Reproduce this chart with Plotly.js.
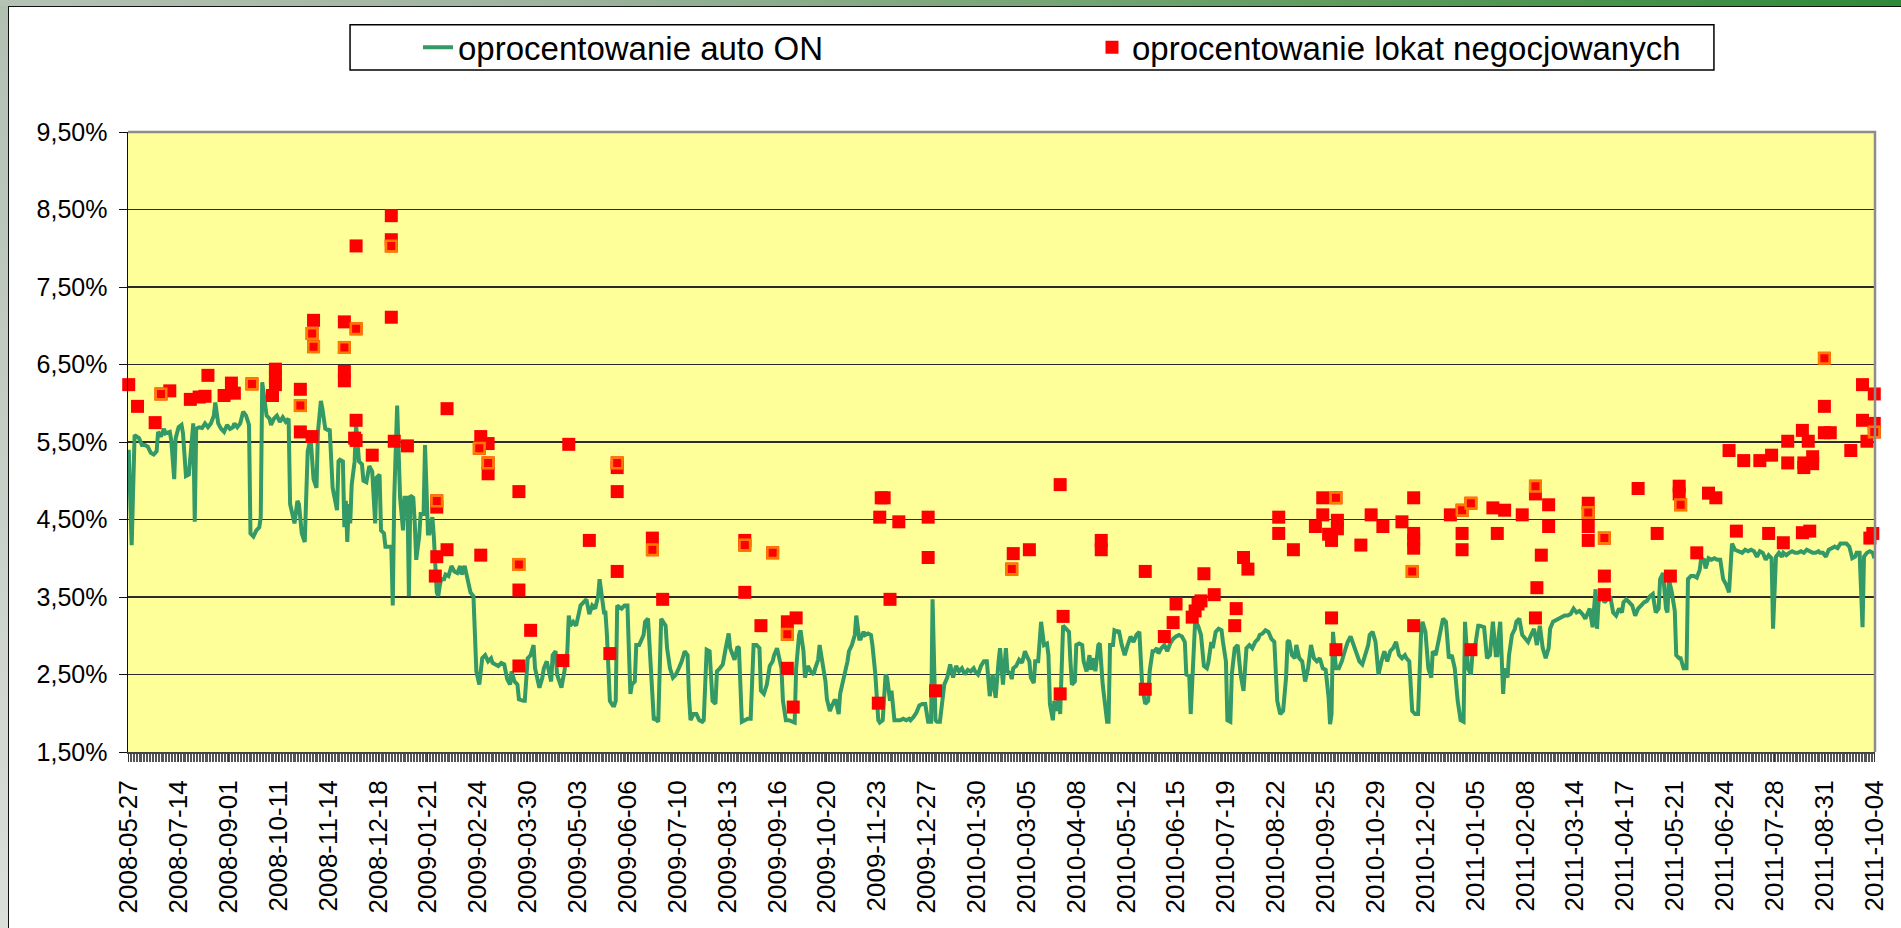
<!DOCTYPE html>
<html>
<head>
<meta charset="utf-8">
<script src="https://cdn.plot.ly/plotly-3.0.1.min.js"></script>
<style>
html,body{margin:0;padding:0;width:1901px;height:928px;overflow:hidden;background:#fff;}
#frame{position:absolute;left:0;top:0;width:1901px;height:928px;background:linear-gradient(to bottom,#b1bfb1,#dcdedc);}
#topbar{position:absolute;left:0;top:0;width:1901px;height:6px;background:linear-gradient(to right,#b5c3b5,#9cb39c 30%,#5f9c5f 70%,#2f8a38);}
#inner{position:absolute;left:8px;top:6px;width:1893px;height:922px;background:#fff;border-left:1px solid #111;border-top:1px solid #111;box-sizing:border-box;}
#chart{position:absolute;left:9px;top:7px;width:1892px;height:921px;}
</style>
</head>
<body>
<div id="frame"></div>
<div id="topbar"></div>
<div id="inner"></div>
<div id="chart"></div>
<script>
// Etykiety osi X (co 34 notowania)
const tickLabels = ["2008-05-27","2008-07-14","2008-09-01","2008-10-11","2008-11-14","2008-12-18",
 "2009-01-21","2009-02-24","2009-03-30","2009-05-03","2009-06-06","2009-07-10","2009-08-13",
 "2009-09-16","2009-10-20","2009-11-23","2009-12-27","2010-01-30","2010-03-05","2010-04-08",
 "2010-05-12","2010-06-15","2010-07-19","2010-08-22","2010-09-25","2010-10-29","2010-12-02",
 "2011-01-05","2011-02-08","2011-03-14","2011-04-17","2011-05-21","2011-06-24","2011-07-28",
 "2011-08-31","2011-10-04"];
const labelStep = 34;

// Seria 1: oprocentowanie auto ON (nr notowania, wartość w %)
const autoOnNr = [
0,2,4,7,9,11,13,15,17,19, 20,22,24,25,28,29,31,32,34,36, 37,39,41,43,44,45,46,48,50,52,
54,56,58,59,61,63,65,67,69,71, 72,74,76,78,80,82,83,85,87,89, 90,91,93,94,96,97,99,101,103,105,
107,109,110,112,113,115,116,118,120,122, 124,126,128,129,131,132,134,136,137,139,
141,142,143,144,146,147,148,149,150,151, 152,154,155,157,159,160,162,163,164,166,
168,169,171,172,174,175,178,179,180,181, 183,184,185,187,188,190,191,192,194,195,
196,198,199,201,202,204,205,207,208,210, 211,212,213,215,216,218,220,222,224,226,
227,229,231,233,235,236,237,239,241,243, 245,247,248,250,252,254,256,258,260,261,
263,265,266,269,270,272,274,276,277,279, 280,282,283,285,286,288,289,291,292,294,
295,297,299,300,301,303,305,307,308,310, 312,314,316,318,320,321,323,324,325,326,
328,330,331,332,333,336,338,340,341,342, 343,345,346,348,351,352,354,356,358,359,
361,363,364,366,367,369,371,373,375,377, 379,381,382,383,385,387,389,391,392,394,
396,398,400,401,403,405,407,409,410,412, 413,415,416,418,420,422,424,426,428,430,
431,433,435,437,439,440,442,443,445,446, 448,450,452,454,455,457,458,460,461,463,
465,467,468,470,471,473,475,476,478,479, 481,482,484,485,487,488,490,491,493,495,
496,498,499,501,502,504,506,507,509,511, 512,514,516,517,519,520,522,524,526,528,
530,532,533,535,537,539,541,543,545,547, 548,550,551,553,555,556,558,560,562,564,
566,568,570,572,574,576,577,579,581,583, 585,587,589,
591,593,594,596,598,599,601,602,603,605, 607,609,611,612,614,615,617,618,620,622,
624,626,627,628,630,631,633,634,635,637, 639,641,642,643,645,646,648,650,651,653,
655,656,658,659,661,662,664,665,667,668, 669,671,672,674,675,677,679,681,683,685,
687,689,690,691,693,695,696,698,699,701, 702,704,706,708,710,712,714,716,718,720,
721,723,724,726,727,729,731,733,735,736, 738,739,741,743,745,746,748,749,751,752,
754,756,758,760,762,764,766,768,770,771, 773,775,777,779,781,783,785,787,789,790,
791,793,795,796,798,800,802,804,806,808, 810,812,814,816,818,819,820,821,823,825,
827,829,831,833,835,837,839,841,843,845, 846,848,850,852,854,856,858,860,862,864,
866,868,870,871,873,875,877,879,881,882, 884,886,888,889,891,893,895,896,898,900,
902,904,906,908,910,911,913,915,916,918, 920,921,924,926,928,930,932,933,934,935,
937,938,940,941,943,945,946,948,950,952, 954,956,958,960,962,964,966,968,969,971,
973,975,977,979,981,983,985,987,989,991, 993,994,996,998,1000,1001,1002,1004,1006,1008,
1010,1012,1014,1016,1018,1019,1021,1023,1025,1027, 1029,1031,1033,1035,1037,1039,1041,1043,1044,1046,
1048,1049,1050,1052,1054,1055,1057,1058,1060,1062, 1063,1065,1067,1069,1071,1072,1074,1075,1077,1079,
1081,1083,1085,1087,1089,1091,1092,1093,1095,1097, 1098,1100,1102,1104,1106,1108,1110,1112,1114,1116,
1118,1120,1121,1123,1125,1127,1128,1130,1132,1134, 1136,1138,1140,1142,1144,1146,1148,1150,1152,1153,
1155,1157,1159,1161,1163,1165,1167,1169,1171,1173, 1175,1177,1178,1180,1182,1183,1185,1187,1189,1190];
const autoOnVal = [
5.40,4.17,5.59,5.55,5.46,5.46,5.44,5.36,5.34,5.38, 5.63,5.57,5.67,5.61,5.63,5.52,5.02,5.55,5.69,5.72, 5.61,5.06,5.08,5.63,5.74,4.47,5.67,5.69,5.68,5.74,
5.69,5.74,5.84,6.01,5.74,5.67,5.63,5.72,5.67,5.69, 5.74,5.69,5.74,5.89,5.84,5.72,4.32,4.28,4.36,4.40, 4.53,6.27,5.93,5.84,5.80,5.72,5.80,5.84,5.76,5.82,
5.76,5.80,4.70,4.53,4.45,4.74,4.70,4.32,4.21,5.38, 5.55,5.02,4.91,5.63,6.03,5.93,5.67,5.65,5.67,4.91,
4.70,4.62,5.25,5.27,5.25,4.40,4.74,4.21,4.70,4.45, 4.95,5.25,5.72,5.25,5.21,5.00,4.98,5.12,5.19,5.12,
4.45,5.04,5.08,4.36,4.32,4.15,4.15,4.15,3.39,4.78, 5.97,5.46,4.78,4.36,4.78,4.78,3.51,4.81,4.78,4.45,
3.98,4.28,4.57,4.57,5.46,4.32,4.32,4.53,4.28,3.56, 3.51,3.64,3.73,3.73,3.79,3.77,3.90,3.83,3.81,3.90,
3.79,3.90,3.73,3.56,3.51,3.01,2.54,2.37,2.71,2.75, 2.67,2.71,2.65,2.63,2.61,2.65,2.63,2.44,2.37,2.54,
2.41,2.37,2.18,2.16,2.16,2.71,2.75,2.88,2.58,2.41, 2.33,2.46,2.58,2.67,2.58,2.41,2.75,2.80,2.50,2.37,
2.33,2.54,2.80,3.26,3.13,3.18,3.13,3.30,3.39,3.43, 3.47,3.28,3.39,3.35,3.51,3.73,3.39,3.30,3.30,3.01,
2.16,2.10,2.10,2.16,3.39,3.35,3.39,3.39,2.80,2.25, 2.37,2.41,2.88,2.88,3.01,3.18,3.22,2.58,1.91,1.93,
1.89,3.22,3.18,3.13,2.84,2.58,2.46,2.50,2.58,2.67, 2.80,2.75,2.20,1.91,1.99,1.99,1.91,1.89,1.91,2.82,
2.80,2.16,2.12,2.54,2.58,2.63,2.84,3.03,2.84,2.71, 2.69,2.86,2.84,1.89,1.91,1.93,1.93,2.88,2.88,2.84,
2.29,2.25,2.37,2.61,2.67,2.75,2.84,2.75,2.58,2.16, 1.91,1.91,1.89,1.88,2.58,3.01,3.07,2.80,2.46,2.61,
2.54,2.50,2.58,2.69,2.88,2.67,2.41,2.18,2.03,2.08, 2.16,2.16,1.99,2.25,2.41,2.54,2.67,2.80,2.88,3.01,
3.26,2.96,2.96,3.05,3.01,3.03,3.01,2.88,2.50,1.91, 1.88,1.91,2.50,2.46,2.16,2.29,1.91,1.91,1.91,1.93,
1.91,1.93,1.91,1.95,2.01,2.10,2.12,2.12,1.89,1.89, 3.47,1.91,1.89,1.89,2.16,2.37,2.46,2.63,2.46,2.61,
2.54,2.58,2.50,2.56,2.54,2.58,2.54,2.50,2.61,2.67, 2.67,2.22,2.50,
2.20,2.67,2.84,2.37,2.84,2.54,2.52,2.44,2.58,2.61, 2.69,2.65,2.80,2.75,2.67,2.46,2.39,2.67,2.67,3.18,
2.88,2.90,2.75,2.12,1.91,2.16,2.03,2.25,1.99,3.13, 3.09,3.05,2.67,2.37,2.41,2.88,2.90,2.88,2.67,2.54,
2.75,2.56,2.71,2.54,2.88,2.90,2.37,2.20,1.89,1.89, 2.88,2.88,3.07,3.05,3.07,2.88,2.75,2.88,2.99,2.92,
3.01,3.05,2.58,2.33,2.12,2.16,2.54,2.80,2.80,2.84, 2.77,2.84,2.88,2.80,2.90,2.96,2.99,3.01,2.99,2.92,
2.50,2.48,1.99,2.80,3.18,3.13,3.01,2.61,2.58,2.65, 2.92,2.84,3.05,3.09,3.07,2.92,2.67,1.91,1.89,2.50,
2.84,2.88,2.50,2.29,2.84,2.88,2.84,2.92,2.96,3.01, 3.03,3.07,3.05,2.96,2.92,2.16,1.99,2.03,2.46,2.92,
2.94,2.75,2.71,2.88,2.71,2.67,2.41,2.58,2.88,2.71, 2.67,2.71,2.58,2.56,2.20,1.86,1.99,3.05,2.58,2.58,
2.67,2.80,2.92,2.99,2.88,2.75,2.67,2.63,2.75,2.88, 3.01,3.05,2.92,2.50,2.67,2.80,2.67,2.80,2.84,2.92,
2.75,2.71,2.75,2.71,2.67,2.03,1.99,1.99,3.01,3.18, 3.05,2.58,2.46,2.80,2.75,2.92,3.09,3.22,3.18,2.71,
2.75,2.58,2.16,1.91,1.89,3.18,2.58,2.50,2.75,2.88, 3.13,3.13,3.11,2.71,2.75,3.18,2.75,2.75,3.01,3.18,
2.25,2.58,2.46,2.75,3.01,3.09,3.18,3.22,3.01,2.96, 2.92,3.01,3.09,2.88,3.13,2.84,2.71,2.84,3.09,3.18,
3.20,3.22,3.24,3.26,3.26,3.28,3.35,3.30,3.32,3.28, 3.22,3.26,3.35,3.11,3.60,3.09,3.43,3.56,3.43,3.47,
3.51,3.30,3.26,3.35,3.30,3.43,3.47,3.43,3.39,3.26, 3.35,3.39,3.43,3.45,3.51,3.54,3.30,3.35,3.73,3.81,
3.35,3.30,3.73,3.56,3.32,2.75,2.71,2.71,2.58,2.58, 3.73,3.77,3.77,3.75,3.85,4.00,3.98,3.87,4.00,3.98,
4.00,3.98,3.98,3.73,3.66,3.56,3.98,4.19,4.11,4.09, 4.09,4.07,4.11,4.09,4.11,4.09,4.02,4.09,4.07,3.98,
4.04,4.00,3.09,4.02,4.07,4.02,4.07,4.04,4.07,4.09, 4.07,4.07,4.09,4.07,4.11,4.09,4.07,4.07,4.09,4.07,
4.07,4.02,4.11,4.13,4.15,4.13,4.19,4.19,4.19,4.15, 4.00,4.02,4.07,4.07,3.11,4.02,4.07,4.09,4.07,4.00];

// Seria 2: oprocentowanie lokat negocjowanych
const lokatyNr = [
0,6,18,22,28,42,48,52,54,65, 70,72,84,98,100,100,100,117,117,117,
125,125,126,126,147,147,147,147,154,155, 155,155,155,166,179,179,179,179,181,190,
209,210,210,210,217,217,239,240,240,245, 245,245,266,266,266,266,274,296,300,314,
328,333,333,333,333,357,357,364,420,420, 420,431,439,449,449,449,453,455,511,512,
513,515,519,525,545,545,550,602,603,614, 635,635,637,663,663,693,693,706,712,714,
725,727,729,731,733,740,754,755,760,763, 784,784,794,809,814,814,818,820,820,823,
823,824,824,840,847,855,868,875,876,876, 876,876,876,901,909,909,909,915,915,930,
933,938,950,959,959,959,960,963,968,968, 995,995,995,995,1006,1006,1006,1029,1042,1051,
1057,1057,1058,1069,1077,1082,1091,1096,1101,1112, 1118,1120,1128,1131,1131,1141,1141,1142,1142,1145,
1146,1148,1148,1156,1156,1156,1160,1174,1182,1182, 1185,1187,1189,1190,1190,1190];
const lokatyVal = [
6.24,5.96,5.75,6.12,6.16,6.05,6.08,6.09,6.36,6.10, 6.26,6.13,6.25,6.10,6.44,6.34,6.24,6.18,5.97,5.63,
6.90,5.57,7.07,6.73,7.05,6.72,6.41,6.29,5.55,8.03, 6.96,5.78,5.52,5.33,8.42,8.11,8.03,7.11,5.51,5.45,
3.77,4.74,4.66,4.02,5.93,4.11,5.42,5.57,4.04,5.48, 5.23,5.09,4.86,3.92,3.59,2.61,3.07,2.68,5.47,4.23,
2.77,5.23,5.17,4.86,3.83,4.26,4.11,3.47,4.23,4.17, 3.56,3.13,4.07,3.18,3.02,2.58,2.08,3.23,2.13,4.53,
4.78,4.78,3.47,4.47,4.53,4.01,2.29,3.86,4.06,4.11, 4.95,2.25,3.25,4.23,4.11,3.83,2.31,2.99,3.17,3.41,
3.24,3.32,3.41,3.45,3.80,3.53,3.13,3.35,4.01,3.86, 4.53,4.32,4.11,4.41,4.78,4.56,4.31,4.23,3.23,4.78,
2.82,4.49,4.38,4.17,4.56,4.41,4.47,3.83,4.78,4.32, 4.23,4.13,3.13,4.56,4.62,4.32,4.11,4.71,2.82,4.65,
4.32,4.62,4.56,4.93,4.83,3.23,3.62,4.04,4.69,4.41, 4.71,4.59,4.41,4.23,4.26,3.77,3.53,4.90,4.32,3.77,
4.93,4.83,4.69,4.07,4.84,4.78,5.39,4.35,5.26,5.26, 4.32,5.33,4.20,5.51,5.23,5.65,4.33,5.23,5.17,5.51,
4.35,5.31,5.22,6.58,5.96,5.62,5.62,5.39,6.24,5.78, 5.51,4.26,4.32,6.12,5.74,5.63];
// 1 = punkt z pomarańczowym obrysem
const lokatyObrys = [
0,0,0,1,0,0,0,0,0,0, 0,0,1,0,0,0,0,0,1,0,
1,0,0,1,0,1,0,0,0,0, 1,0,0,0,0,0,1,0,0,0,
0,1,0,0,0,0,1,0,0,0, 1,0,0,1,0,0,0,0,0,0,
0,1,0,0,0,0,1,0,0,1, 0,0,1,0,1,0,0,0,0,0,
0,0,0,0,0,0,0,1,0,0, 0,0,0,0,0,0,0,0,0,0,
0,0,0,0,0,0,0,0,0,0, 0,0,0,0,0,0,0,0,0,1,
0,0,0,0,0,0,0,1,0,0, 0,0,0,0,1,0,0,1,0,0,
0,0,0,1,0,0,0,0,0,0, 0,1,0,0,1,0,0,0,0,0,
0,0,1,0,0,0,0,0,0,0, 0,0,0,0,0,0,0,0,0,0,
0,0,0,1,0,0,0,0,0,0, 0,0,0,0,0,1];

const FONT = 'Liberation Sans, Arial, sans-serif';
const obrX = [], obrY = [];
lokatyObrys.forEach((f, k) => { if (f) { obrX.push(lokatyNr[k]); obrY.push(lokatyVal[k]); } });

const traces = [
  {x: autoOnNr, y: autoOnVal, type: 'scatter', mode: 'lines', name: 'oprocentowanie auto ON',
   line: {color: '#339966', width: 4}, legend: 'legend', hoverinfo: 'skip'},
  {x: lokatyNr, y: lokatyVal, type: 'scatter', mode: 'markers', name: 'oprocentowanie lokat negocjowanych',
   marker: {symbol: 'square', size: 13, color: '#FF0000'}, cliponaxis: false, legend: 'legend2', hoverinfo: 'skip'},
  {x: obrX, y: obrY, type: 'scatter', mode: 'markers', showlegend: false,
   marker: {symbol: 'square', size: 10.5, color: '#FF0000', line: {color: '#FF7A00', width: 2.5}}, cliponaxis: false, hoverinfo: 'skip'}
];

const layout = {
  width: 1892, height: 921,
  margin: {l: 119, r: 26, t: 115, b: 176},
  paper_bgcolor: 'rgba(0,0,0,0)',
  plot_bgcolor: '#FFFF99',
  separators: ', ',
  font: {family: FONT, color: '#000'},
  showlegend: true,
  xaxis: {
    type: 'linear', range: [-0.5, 1190.5], autorange: false,
    tickmode: 'array', tickvals: tickLabels.map((d, k) => k * labelStep), ticktext: tickLabels,
    tickangle: -90, tickfont: {size: 26, family: FONT, color: '#000'},
    ticks: 'outside', ticklen: 8, tickcolor: '#333', tickwidth: 1,
    ticklabelstandoff: 8,
    showgrid: false, zeroline: false,
    showline: true, linecolor: '#444', linewidth: 2,
    minor: {dtick: 1, tick0: 0, ticks: 'outside', ticklen: 8, tickcolor: '#555', tickwidth: 1, showgrid: false}
  },
  yaxis: {
    range: [1.5, 9.5], autorange: false, tick0: 1.5, dtick: 1,
    tickformat: '.2f', ticksuffix: '%',
    tickfont: {size: 25, family: FONT, color: '#000'},
    ticks: 'outside', ticklen: 8, tickcolor: '#111',
    ticklabelstandoff: 6,
    showgrid: true, gridcolor: '#2b2b2b', gridwidth: 1.2,
    zeroline: false, showline: true, linecolor: '#111', linewidth: 1.5
  },
  legend: {x: 0.166, y: 1.1365, xanchor: 'left', yanchor: 'middle', orientation: 'h',
    bgcolor: 'rgba(0,0,0,0)', borderwidth: 0, font: {size: 33, family: FONT, color: '#000'}},
  legend2: {x: 0.5518, y: 1.1365, xanchor: 'left', yanchor: 'middle', orientation: 'h',
    bgcolor: 'rgba(0,0,0,0)', borderwidth: 0, font: {size: 33, family: FONT, color: '#000'}},
  shapes: [
    {type: 'rect', xref: 'paper', yref: 'paper', x0: 0.1271, x1: 0.9078, y0: 1.1, y1: 1.173,
     line: {color: '#000', width: 1.5}, fillcolor: 'rgba(0,0,0,0)', layer: 'below'},
    {type: 'path', xref: 'paper', yref: 'paper', path: 'M0,1 L1,1 L1,0',
     line: {color: '#8c8c8c', width: 2.5}}
  ]
};

Plotly.newPlot('chart', traces, layout, {staticPlot: true, displayModeBar: false});
</script>
</body>
</html>
